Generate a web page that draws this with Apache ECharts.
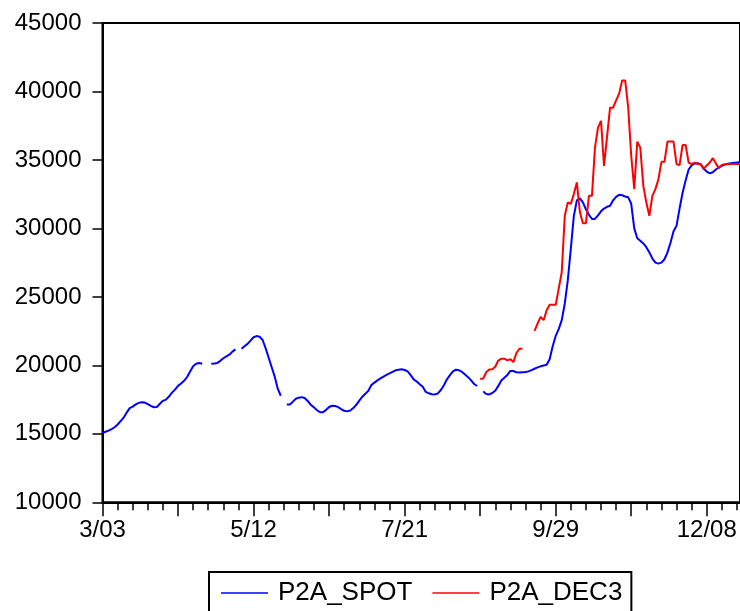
<!DOCTYPE html>
<html>
<head>
<meta charset="utf-8">
<script src="https://cdn.jsdelivr.net/npm/echarts@6/dist/echarts.min.js"></script>
<style>
html,body{margin:0;padding:0;background:#fff;}
#chart{width:740px;height:611px;}
</style>
</head>
<body>
<div id="chart"></div>
<script>
// Tick labels shown every 50 observations (weekday series)
const tickLabels = ['3/03', '5/12', '7/21', '9/29', '12/08'];
const labelEvery = 50;
const observationCount = 212;

const seriesNames = ['P2A_SPOT', 'P2A_DEC3'];

// P2A_SPOT, one value per observation (null = missing)
const spotValues = [
  15050, 15150, 15230, 15350, 15480, 15680, 15930, 16180, 16550, 16880,
  16990, 17150, 17260, 17300, 17280, 17170, 17040, 16940, 16960, 17200,
  17410, 17500, 17720, 18010, 18230, 18500, 18680, 18870, 19150, 19550,
  19930, 20120, 20170, 20120, null, null, 20120, 20140, 20180, 20330,
  20520, 20660, 20780, 21000, 21170, null, 21220, 21400, 21570, 21810,
  22050, 22140, 22090, 21850, 21250, 20560, 19860, 19180, 18300, 17780,
  null, 17150, 17150, 17350, 17560, 17640, 17680, 17600, 17380, 17100,
  16930, 16720, 16580, 16570, 16750, 16960, 17050, 17040, 16950, 16810,
  16680, 16640, 16700, 16880, 17120, 17430, 17710, 17920, 18150, 18560,
  18740, 18900, 19050, 19180, 19300, 19410, 19530, 19640, 19680, 19710,
  19660, 19560, 19280, 18980, 18820, 18620, 18430, 18060, 17960, 17890,
  17880, 17950, 18200, 18550, 18980, 19280, 19560, 19680, 19640, 19520,
  19330, 19140, 18900, 18640, 18490, null, 18100, 17900, 17880, 17980,
  18150, 18500, 18900, 19100, 19300, 19590, 19590, 19500, 19480, 19500,
  19520, 19560, 19650, 19750, 19850, 19930, 19990, 20050, 20450, 21400,
  22150, 22650, 23300, 24500, 26200, 28500, 30900, 32050, 32200, 31900,
  31400, 31000, 30690, 30690, 30950, 31250, 31450, 31580, 31650, 32050,
  32300, 32460, 32420, 32330, 32270, 31800, 30000, 29280, 29100, 28900,
  28630, 28250, 27800, 27500, 27430, 27500, 27750, 28250, 28950, 29800,
  30200, 31450, 32600, 33500, 34300, 34600, 34740, 34760, 34690, 34350,
  34150, 34020, 34100, 34300, 34450, 34580, 34660, 34720, 34760, 34800,
  34820, 34850
];

// P2A_DEC3 starts at observation 125 (null = missing)
const dec3Start = 125;
const dec3Values = [
  19030, 19030, 19500, 19690, 19710, 19900, 20350, 20490, 20490, 20360,
  20450, 20240, 20900, 21210, 21210, null, null, null, 22520, 23050,
  23540, 23300, 24030, 24420, 24420, 24420, 25600, 26800, 30900, 31900,
  31790, 32510, 33360, 31200, 30370, 30370, 32380, 32380, 35900, 37360,
  37850, 34570, 36700, 38820, 38820, 39350, 39840, 40810, 40810, 38820,
  35300, 32870, 36340, 35900, 33110, 31890, 30920, 32380, 32870, 33590,
  34860, 34860, 36340, 36340, 36340, 34690, 34620, 36100, 36100, 34810,
  34690, 34810, 34700, 34690, 34370, 34600, 34810, 35130, 34750, 34400,
  34640, 34690, 34690, 34700, 34700, 34700, 34700
];

const yMin = 10000, yMax = 45000, yStep = 5000;

const categories = [];
for (let i = 0; i < observationCount; i++) categories.push(String(i));
const dec3Data = [];
for (let i = 0; i < observationCount; i++) {
  const k = i - dec3Start;
  dec3Data.push(k >= 0 && k < dec3Values.length ? dec3Values[k] : null);
}

const FONT = "'Liberation Sans', Arial, sans-serif";
const chart = echarts.init(document.getElementById('chart'), null, {renderer: 'canvas'});
chart.setOption({
  animation: false,
  backgroundColor: '#ffffff',
  grid: {
    left: 102.5, top: 23, right: -3.9, bottom: 108.7,
    show: true, borderColor: '#000', borderWidth: 2, backgroundColor: 'transparent'
  },
  legend: {
    data: seriesNames,
    left: 209, top: 572,
    orient: 'horizontal',
    icon: 'rect',
    itemWidth: 47, itemHeight: 1.5,
    itemGap: 20,
    padding: [8, 9, 8, 12],
    borderColor: '#000', borderWidth: 2,
    textStyle: {fontSize: 26, fontFamily: FONT, color: '#000', padding: [0, 0, 0, 5]}
  },
  xAxis: [
    {
      type: 'category', data: categories, boundaryGap: false,
      axisLine: {show: true, lineStyle: {color: '#000', width: 2}},
      axisTick: {show: true, interval: 24, length: 14, lineStyle: {color: '#000', width: 1.5}},
      axisLabel: {
        interval: labelEvery - 1, margin: 16,
        fontSize: 24, fontFamily: FONT, color: '#000',
        formatter: function (v, idx) { return idx % labelEvery === 0 ? (tickLabels[idx / labelEvery] || '') : ''; }
      },
      splitLine: {show: false}
    },
    {
      type: 'category', data: categories, boundaryGap: false, position: 'bottom',
      axisLine: {show: false},
      axisTick: {show: true, interval: 4, length: 8, lineStyle: {color: '#000', width: 1.5}},
      axisLabel: {show: false},
      splitLine: {show: false}
    }
  ],
  yAxis: {
    type: 'value', min: yMin, max: yMax, interval: yStep,
    axisLine: {show: true, lineStyle: {color: '#000', width: 2}},
    axisTick: {show: true, length: 10, lineStyle: {color: '#000', width: 1.5}},
    axisLabel: {
      margin: 21, fontSize: 24, fontFamily: FONT, color: '#000',
      formatter: function (v) { return String(v); }
    },
    splitLine: {show: false}
  },
  series: [
    {
      name: seriesNames[0], type: 'line', data: spotValues, xAxisIndex: 0,
      symbol: 'none', connectNulls: false,
      lineStyle: {color: '#0000ff', width: 2}, itemStyle: {color: '#0000ff'}
    },
    {
      name: seriesNames[1], type: 'line', data: dec3Data, xAxisIndex: 0,
      symbol: 'none', connectNulls: false,
      lineStyle: {color: '#ff0000', width: 2}, itemStyle: {color: '#ff0000'}
    }
  ]
});
</script>
</body>
</html>
